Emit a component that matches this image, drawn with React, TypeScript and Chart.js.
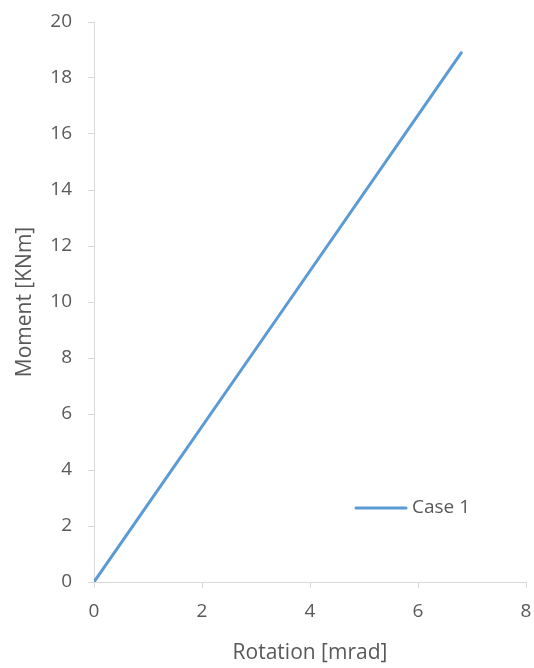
import React, { useEffect, useRef } from "react";
import { Chart, registerables } from "chart.js";

Chart.register(...registerables);

const seriesLabel = "Case 1";
const rotation = [0, 3.6, 6.8];
const moment = [0, 10.0, 18.9];
const xTitle = "Rotation [mrad]";
const yTitle = "Moment [KNm]";

const FONT = "'Open Sans', 'Liberation Sans', sans-serif";
const TEXT = "#595959";
const AXIS = "#d9d9d9";
const BLUE = "#5B9BD5";

const legendInside = {
  id: "legendInside",
  afterDraw(chart: any) {
    const ctx = chart.ctx;
    const ds = chart.data.datasets[0];
    const x0 = 356;
    const y0 = 508;
    ctx.save();
    ctx.strokeStyle = ds.borderColor;
    ctx.lineWidth = 3;
    ctx.lineCap = "round";
    ctx.beginPath();
    ctx.moveTo(x0, y0);
    ctx.lineTo(x0 + 50, y0);
    ctx.stroke();
    ctx.fillStyle = TEXT;
    ctx.font = `19px ${FONT}`;
    ctx.textBaseline = "middle";
    ctx.textAlign = "left";
    ctx.fillText(ds.label, x0 + 56, y0);
    ctx.restore();
  },
};

export default function App() {
  const ref = useRef<HTMLCanvasElement | null>(null);
  useEffect(() => {
    document.body.style.margin = "0";
    const chart = new Chart(ref.current!, {
      type: "scatter",
      data: {
        datasets: [
          {
            label: seriesLabel,
            data: rotation.map((x, i) => ({ x, y: moment[i] })),
            showLine: true,
            borderColor: BLUE,
            backgroundColor: BLUE,
            borderWidth: 3,
            pointRadius: 0,
            borderCapStyle: "round",
          } as any,
        ],
      },
      options: {
        animation: false,
        responsive: false,
        layout: { padding: { left: 12, right: 8, top: 22, bottom: 2 } },
        plugins: { legend: { display: false }, tooltip: { enabled: false } },
        scales: {
          x: {
            type: "linear",
            min: 0,
            max: 8,
            afterFit: (s: any) => {
              s.height = 84;
              s.paddingLeft = 0;
              s.paddingRight = 0;
            },
            ticks: { stepSize: 2, color: TEXT, font: { family: FONT, size: 19 }, padding: 12 },
            grid: { drawOnChartArea: false, drawTicks: true, tickLength: 6, color: AXIS },
            border: { color: AXIS, width: 1 },
            title: { display: true, text: xTitle, color: TEXT, font: { family: FONT, size: 21 }, padding: { top: 6, bottom: 0 } },
          },
          y: {
            type: "linear",
            min: 0,
            max: 20,
            afterFit: (s: any) => {
              s.width = 82;
              s.paddingTop = 0;
              s.paddingBottom = 0;
            },
            ticks: { stepSize: 2, color: TEXT, font: { family: FONT, size: 19 }, padding: 16 },
            grid: { drawOnChartArea: false, drawTicks: true, tickLength: 6, color: AXIS },
            border: { color: AXIS, width: 1 },
            title: { display: true, text: yTitle, color: TEXT, font: { family: FONT, size: 21 }, padding: { top: 0, bottom: 4 } },
          },
        },
      },
      plugins: [legendInside],
    });
    return () => chart.destroy();
  }, []);
  return (
    <div style={{ width: 534, height: 668, background: "#fff" }}>
      <canvas ref={ref} width={534} height={668} style={{ display: "block" }} />
    </div>
  );
}
